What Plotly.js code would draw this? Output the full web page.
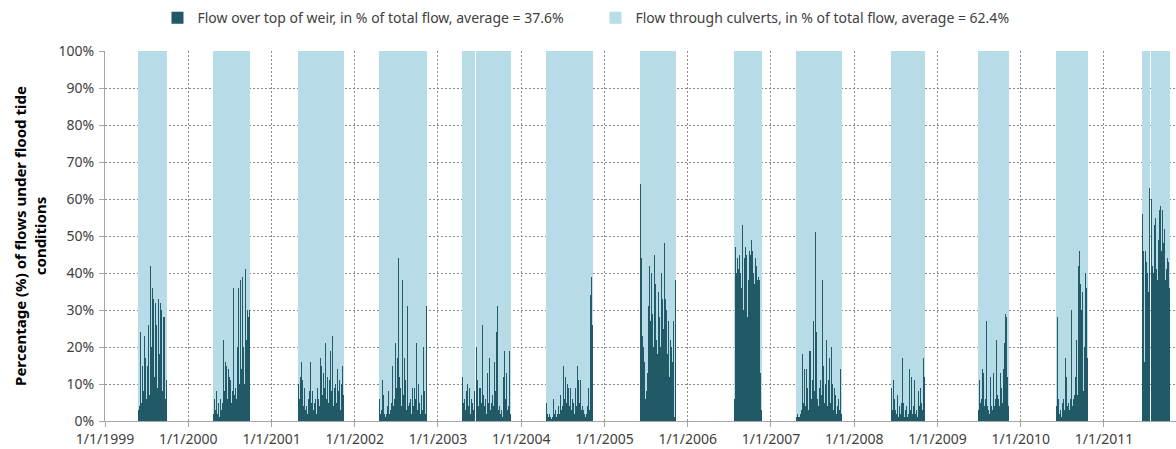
<!DOCTYPE html>
<html><head><meta charset="utf-8">
<script src="https://cdn.plot.ly/plotly-3.0.1.min.js"></script>
<style>html,body{margin:0;padding:0;background:#fff}#chart{width:1176px;height:449px}</style>
</head><body><div id="chart"></div>
<script>
// Flood-tide seasons: date of first sample in each season, samples every sampleDays
const seasonStarts = ['1999-05-29','2000-04-21','2001-04-29','2002-04-19','2003-04-20','2004-04-21',
  '2005-06-09','2006-07-24','2007-04-25','2008-06-13','2009-06-30','2010-06-08','2011-06-19'];
const sampleDays = 4.39;

// Flow over top of weir (% of total flow); null = missing record
const weir1999 = [3,4,24,5,15,8,23,17,6,15,26,7,42,20,36,33,12,32,26,9,33,18,32,30,8,28,28,6,11];
const weir2000 = [2,6,3,8,2,5,1,6,3,5,22,8,16,15,6,14,12,11,5,8,36,7,9,6,20,36,10,38,14,39,20,10,41,22,30,28,30];
const weir2001 = [10,6,12,16,11,4,9,3,4,2,6,8,16,5,8,3,5,6,2,9,6,4,17,15,7,13,9,21,6,12,5,11,19,8,23,4,9,10,5,14,8,11,3,10,15,7];
const weir2002 = [6,2,3,11,7,2,1,2,4,8,2,3,5,15,4,6,21,9,17,44,12,9,4,38,7,17,11,3,31,4,5,6,2,9,4,9,6,21,3,10,5,2,7,3,20,8,2,31];
const weir2003 = [12,5,6,3,8,10,4,9,2,6,5,3,8,null,20,11,4,9,9,5,26,7,4,6,2,13,5,17,3,5,7,4,16,8,24,31,3,4,2,3,1,12,19,6,13,3,4,19,2];
const weir2004 = [5,2,1,2,1,0.5,1,6,2,3,1,2,4,2,7,3,4,15,6,12,5,10,9,4,9,3,6,5,2,9,4,15,11,5,11,3,4,3,2,1,2,4,9,3,34,39,26];
const weir2005 = [64,44,23,20,16,6,8,13,31,42,27,40,29,20,45,37,22,18,35,28,20,40,33,25,48,33,30,18,27,12,22,20,16,27,1,38];
const weir2006 = [6,47,40,44,41,45,40,36,53,30,44,47,45,28,38,46,45,49,46,40,37,44,42,38,39,38,13,3];
const weir2007 = [1,2,1,1,2,3,18,5,14,4,14,9,3,19,19,6,11,27,8,51,24,6,4,9,11,7,38,15,5,10,22,4,11,17,5,20,10,3,9,7,2,4,6,3,14,2];
const weir2008 = [9,3,11,6,3,2,7,1,4,2,5,17,5,1,3,4,1,2,14,3,12,2,4,11,2,3,1,8,4,9,5,3,17,12];
const weir2009 = [3,11,5,6,14,13,4,6,27,4,3,2,12,4,3,13,4,6,22,7,6,4,13,9,5,14,21,29,28,12,4];
const weir2010 = [4,28,6,2,3,1,5,6,3,17,12,4,5,3,6,30,4,6,7,12,22,7,42,46,37,30,35,8,20,40,36,17];
const weir2011 = [56,46,16,46,43,40,35,63,null,60,42,40,53,55,41,38,49,57,58,46,57,48,52,38,41,44,43,36];

const seriesNames = ['Flow over top of weir, in % of total flow, average = 37.6%',
                     'Flow through culverts, in % of total flow, average = 62.4%'];
const xTickVals = ['1999-01-01','2000-01-01','2001-01-01','2002-01-01','2003-01-01','2004-01-01','2005-01-01',
  '2006-01-01','2007-01-01','2008-01-01','2009-01-01','2010-01-01','2011-01-01'];
const xTickText = ['1/1/1999','1/1/2000','1/1/2001','1/1/2002','1/1/2003','1/1/2004','1/1/2005',
  '1/1/2006','1/1/2007','1/1/2008','1/1/2009','1/1/2010','1/1/2011'];
const yTickVals = [0,10,20,30,40,50,60,70,80,90,100];
const yTickText = ['0%','10%','20%','30%','40%','50%','60%','70%','80%','90%','100%'];

const seasons = [weir1999,weir2000,weir2001,weir2002,weir2003,weir2004,weir2005,weir2006,weir2007,weir2008,weir2009,weir2010,weir2011];
const x = [], weir = [], culvert = [];
seasons.forEach((vals, s) => {
  const t0 = Date.parse(seasonStarts[s] + 'T00:00:00Z');
  vals.forEach((v, i) => {
    x.push(t0 + i * sampleDays * 86400000);
    weir.push(v);
    culvert.push(v === null ? null : 100 - v);
  });
});

const dark = '#215968', light = '#b7dee8';
const traces = [
  {type:'bar', name:seriesNames[0], x:x, y:weir, marker:{color:dark, line:{width:0.02, color:dark}}},
  {type:'bar', name:seriesNames[1], x:x, y:culvert, marker:{color:light, line:{width:0.02, color:light}}}
];

const axisGray = '#a6a6a6', gridGray = '#8a8a8a';
const layout = {
  width:1176, height:449,
  margin:{l:105, r:0, t:51, b:28},
  paper_bgcolor:'#ffffff', plot_bgcolor:'#ffffff',
  barmode:'stack', bargap:0,
  font:{family:'Noto Sans', size:14, color:'#404040'},
  hovermode:false,
  showlegend:true,
  legend:{orientation:'h', x:0.049, y:1.089, xanchor:'left', yanchor:'middle',
          font:{size:14, color:'#404040'}, traceorder:'normal', bgcolor:'rgba(0,0,0,0)',
          entrywidth:393, entrywidthmode:'pixels'},
  xaxis:{type:'date', range:['1999-01-01','2011-11-13'], tickmode:'array', tickvals:xTickVals, ticktext:xTickText,
         ticks:'outside', ticklen:5, tickcolor:axisGray, showline:true, linecolor:axisGray, linewidth:1,
         showgrid:true, gridcolor:gridGray, griddash:'2px,2px', gridwidth:1, zeroline:false,
         tickfont:{size:14, color:'#404040'}},
  yaxis:{range:[0,100], tickmode:'array', tickvals:yTickVals, ticktext:yTickText,
         ticks:'outside', ticklen:5, tickcolor:axisGray, showline:true, linecolor:axisGray, linewidth:1,
         showgrid:true, gridcolor:gridGray, griddash:'2px,2px', gridwidth:1, zeroline:false,
         ticklabelstandoff:2, tickfont:{size:14, color:'#404040'},
         title:{text:'<b>Percentage (%) of flows under flood tide<br>conditions</b>',
                font:{size:15, color:'#000000', family:'Noto Sans'}, standoff:8}}
};
Plotly.newPlot('chart', traces, layout, {displayModeBar:false, responsive:false});
</script>
</body></html>
